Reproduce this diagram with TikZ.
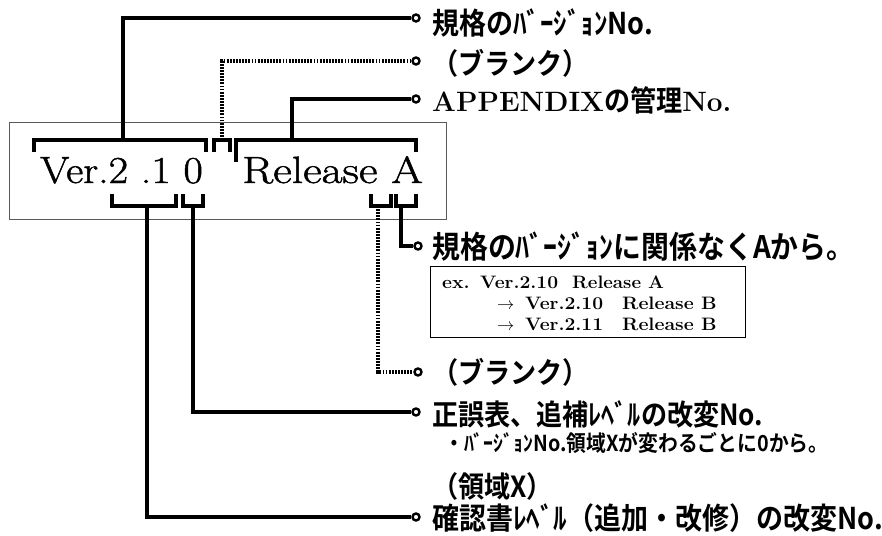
\documentclass[tikz,border=0pt]{standalone}
\usepackage{fontspec}
\usepackage{graphicx}
\setmainfont{Latin Modern Roman}
\newfontfamily\jp{Noto Sans CJK JP Bold}[FakeStretch=0.9]
\newfontfamily\bigserif{Latin Modern Roman}[FakeBold=1.2]
\begin{document}
\begin{tikzpicture}[x=1pt,y=-1pt,
  conn/.style={line width=3.2pt},
  dotconn/.style={line width=3.2pt, dash pattern=on 1.8pt off 1.3pt},
  brk/.style={line width=3.2pt},
  enddot/.style={circle, draw, line width=2.4pt, fill=white, minimum size=7pt, inner sep=0pt},
  lab/.style={anchor=west, inner sep=0pt, font=\jp\fontsize{29}{32}\selectfont},
  exlab/.style={anchor=base west, inner sep=0pt, font=\bfseries\fontsize{18}{20}\selectfont},
  bigtxt/.style={anchor=base west, inner sep=0pt, font=\bigserif\fontsize{38}{42}\selectfont},
]
\useasboundingbox (0,0) rectangle (882,535);
% frame
\node[draw=black!65, line width=0.9pt, minimum width=437pt, minimum height=97pt,
      inner sep=0pt, anchor=north west] (frame) at (9,122) {};
% main text
\node[bigtxt] (ver) at (40,183) {\scalebox{1.11}[1]{Ver.2 .1 0}};
\node[bigtxt] (rel) at (242,183) {\scalebox{1.2}[1]{Release A}};
% brackets (top)
\draw[brk] (34,152) -- (34,140) -- (206,140) -- (206,152);
\draw[brk] (214,152) -- (214,140) -- (230,140) -- (230,152);
\draw[brk] (236,162) -- (236,140) -- (416,140) -- (416,152);
\coordinate (s1) at (123,140);
\coordinate (s2) at (222,140);
\coordinate (s3) at (292,140);
% brackets (bottom)
\draw[brk] (112,194) -- (112,206) -- (176,206) -- (176,194);
\draw[brk] (183,194) -- (183,206) -- (203,206) -- (203,194);
\draw[brk] (371,194) -- (371,206) -- (391,206) -- (391,194);
\draw[brk] (396,194) -- (396,206) -- (416,206) -- (416,194);
\coordinate (s4) at (147,206);
\coordinate (s5) at (193,206);
\coordinate (s6) at (378,206);
\coordinate (s7) at (401,206);
% end dots
\node[enddot] (d1) at (416,18) {};
\node[enddot] (d2) at (416,61) {};
\node[enddot] (d3) at (416,99) {};
\node[enddot] (d4) at (418,246) {};
\node[enddot] (d5) at (418,372) {};
\node[enddot] (d6) at (416,412) {};
\node[enddot] (d7) at (416,517) {};
% connectors
\draw[conn] (s1) |- (d1.west);
\draw[dotconn] (s2) |- (d2.west);
\draw[conn] (s3) |- (d3.west);
\draw[conn] (s7) |- (d4.west);
\draw[dotconn] (s6) |- (d5.west);
\draw[conn] (s5) |- (d6.west);
\draw[conn] (s4) |- (d7.west);
% labels
\node[lab, font=\jp\fontsize{30}{32}\selectfont] (t1) at (432,23) {規格のﾊﾞｰｼﾞｮﾝNo.};
\node[lab] (t2) at (432,63) {（ブランク）};
\node[lab] (t3) at (432,100) {{\rmfamily\bfseries\fontsize{28}{30}\selectfont APPENDIX}の管理{\rmfamily\bfseries\fontsize{28}{30}\selectfont No.}};
\node[lab, font=\jp\fontsize{31}{33}\selectfont] (t4) at (432,247) {規格のﾊﾞｰｼﾞｮﾝに関係なくAから。};
% example box
\node[draw, line width=0.9pt, minimum width=315pt, minimum height=71pt,
      inner sep=0pt, anchor=north west] (exbox) at (430,266) {};
\node[exlab] (e1a) at (442,288) {\scalebox{1.08}[1]{ex.}};
\node[exlab] (e1b) at (480,288) {\scalebox{1.07}[1]{Ver.2.10}};
\node[exlab] (e1c) at (572,288) {\scalebox{1.04}[1]{Release A}};
\node[exlab] (e2a) at (497,309) {$\rightarrow$};
\node[exlab] (e2b) at (525,309) {\scalebox{1.07}[1]{Ver.2.10}};
\node[exlab] (e2c) at (622,309) {\scalebox{1.08}[1]{Release B}};
\node[exlab] (e3a) at (497,330) {$\rightarrow$};
\node[exlab] (e3b) at (525,330) {\scalebox{1.07}[1]{Ver.2.11}};
\node[exlab] (e3c) at (622,330) {\scalebox{1.08}[1]{Release B}};
% lower labels
\node[lab] (t5) at (432,372) {（ブランク）};
\node[lab] (t6) at (432,414) {正誤表、追補ﾚﾍﾞﾙの改変No.};
\node[lab, font=\jp\fontsize{22}{24}\selectfont] (t7) at (444,443) {・ﾊﾞｰｼﾞｮﾝNo.領域Xが変わるごとに0から。};
\node[lab] (t8) at (432,486) {（領域X）};
\node[lab, font=\jp\fontsize{30}{32}\selectfont] (t9) at (432,518) {確認書ﾚﾍﾞﾙ（追加・改修）の改変No.};
\end{tikzpicture}
\end{document}
